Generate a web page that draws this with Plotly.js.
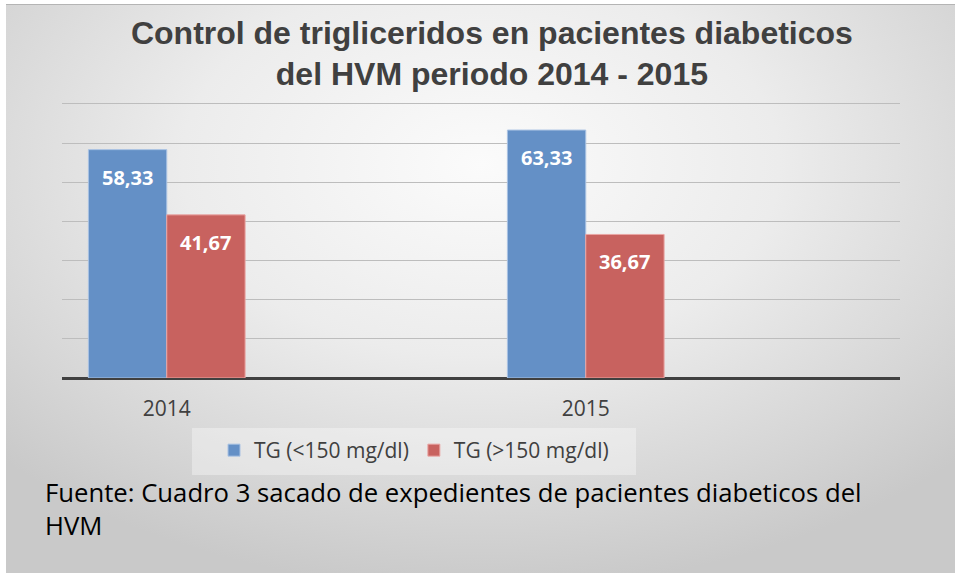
<!DOCTYPE html>
<html>
<head>
<meta charset="utf-8">
<script src="https://cdn.plot.ly/plotly-3.0.1.min.js"></script>
<style>
  html, body { margin: 0; padding: 0; background: #ffffff; }
  #wrap { position: relative; width: 955px; height: 575px; overflow: hidden; }
  #bg {
    position: absolute; left: 6px; top: 4px; width: 949px; height: 568px;
    border-top: 1px solid #b4b4b4;
    background: radial-gradient(ellipse 70% 75% at 50% 28%, #fbfbfb 0%, #ececec 45%, #d6d6d6 80%, #c9c9c9 100%);
  }
  #chart { position: absolute; left: 0; top: 0; width: 955px; height: 575px; }
</style>
</head>
<body>
<div id="wrap">
  <div id="bg"></div>
  <div id="chart"></div>
</div>
<script>
// ---- data ----
const categories = ['2014', '2015'];
const tgLow = [58.33, 63.33];
const tgHigh = [41.67, 36.67];
const seriesNames = ['TG (<150 mg/dl)', 'TG (>150 mg/dl)'];
const titleText = '<b>Control de trigliceridos en pacientes diabeticos<br>del HVM periodo 2014 - 2015</b>';
const sourceText = 'Fuente: Cuadro 3 sacado de expedientes de pacientes diabeticos del<br>HVM';

// ---- style ----
const W = 955, H = 575;
const margin = {l: 62, r: 55, t: 102, b: 197, pad: 0};
const bargap = 0.626;
const xRange = [-0.25, 1.75];
const yRange = [0, 70.5];
const plotW = W - margin.l - margin.r;
const plotH = H - margin.t - margin.b;
const barPx = plotW / (xRange[1] - xRange[0]) * (1 - bargap) / 2;

function fmt(v) { return v.toFixed(2).replace('.', ','); }
function px2paperX(px) { return (px - margin.l) / plotW; }
function px2paperY(py) { return (H - margin.b - py) / plotH; }

const traces = [
  {
    type: 'bar', name: seriesNames[0], x: categories, y: tgLow,
    marker: {color: '#6490c6', line: {color: '#a9c2e3', width: 1}},
    hoverinfo: 'none'
  },
  {
    type: 'bar', name: seriesNames[1], x: categories, y: tgHigh,
    marker: {color: '#c8625f', line: {color: '#eaa6a4', width: 1}},
    hoverinfo: 'none'
  }
];

const annotations = [];
[tgLow, tgHigh].forEach((arr, si) => {
  arr.forEach((v, i) => {
    annotations.push({
      xref: 'x', yref: 'y', x: i, y: v,
      xshift: (si === 0 ? -1 : 1) * barPx / 2,
      yshift: -27.5, yanchor: 'middle', xanchor: 'center',
      text: '<b>' + fmt(v) + '</b>', showarrow: false,
      font: {family: 'Open Sans, sans-serif', size: 20, color: '#ffffff'}
    });
  });
});
annotations.push({
  xref: 'paper', yref: 'paper', x: px2paperX(43), y: px2paperY(473), xanchor: 'left', yanchor: 'top',
  align: 'left', showarrow: false, text: sourceText,
  font: {family: 'Open Sans, sans-serif', size: 25.7, color: '#000000'}
});

const layout = {
  width: W, height: H, margin: margin,
  paper_bgcolor: 'rgba(0,0,0,0)', plot_bgcolor: 'rgba(0,0,0,0)',
  separators: ',.',
  title: {
    text: titleText, x: 0.513, xanchor: 'center', xref: 'paper',
    yref: 'container', y: 0.924, yanchor: 'top',
    font: {family: 'Liberation Sans, Arial, sans-serif', size: 32, color: '#404040'}
  },
  barmode: 'group', bargap: bargap, bargroupgap: 0,
  xaxis: {
    type: 'category', range: xRange, showgrid: false, zeroline: false, showline: false,
    ticks: '', ticklabelstandoff: 16,
    tickfont: {family: 'Open Sans, sans-serif', size: 21, color: '#404040'}
  },
  yaxis: {
    range: yRange, dtick: 10, showticklabels: false, ticks: '',
    showgrid: true, gridcolor: '#bdbdbd', gridwidth: 1,
    zeroline: true, zerolinecolor: '#404040', zerolinewidth: 3, showline: false
  },
  showlegend: true,
  legend: {
    orientation: 'h', x: px2paperX(414), xanchor: 'center', y: px2paperY(430), yanchor: 'top',
    bgcolor: 'rgba(0,0,0,0)', borderwidth: 0,
    font: {family: 'Open Sans, sans-serif', size: 21, color: '#404040'},
    itemclick: false, itemdoubleclick: false
  },
  shapes: [{
    type: 'rect', xref: 'paper', yref: 'paper', layer: 'below',
    x0: px2paperX(192), x1: px2paperX(636), y0: px2paperY(428), y1: px2paperY(475),
    fillcolor: 'rgba(255,255,255,0.35)', line: {width: 0}
  }],
  annotations: annotations
};

Plotly.newPlot('chart', traces, layout, {staticPlot: true, displayModeBar: false});
</script>
</body>
</html>
